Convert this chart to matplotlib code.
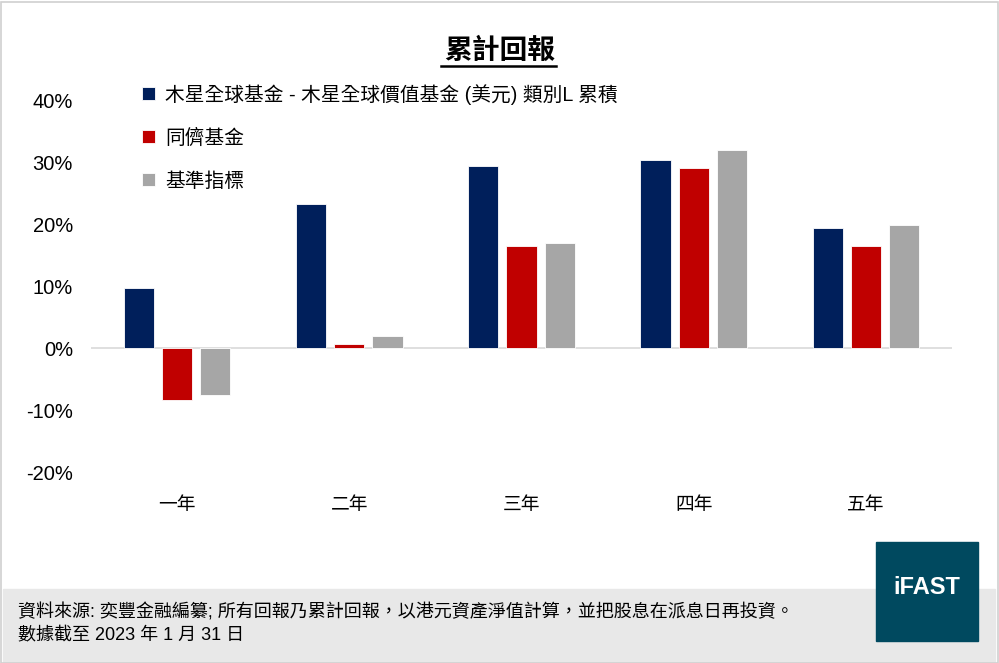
#- Cumulative return grouped bar chart (iFAST style)

import numpy as np
import matplotlib.pyplot as plt
from matplotlib.patches import Rectangle

plt.rcParams['font.family'] = ['Liberation Sans', 'Noto Sans CJK TC', 'DejaVu Sans']

#- Data:

periods = ['一年', '二年', '三年', '四年', '五年']
fund = [9.7, 23.3, 29.3, 30.3, 19.3]
peers = [-8.4, 0.6, 16.4, 29.0, 16.4]
benchmark = [-7.5, 1.9, 17.0, 31.9, 19.9]
series_names = ['木星全球基金 - 木星全球價值基金 (美元) 類別L 累積', '同儕基金', '基準指標']
colors = ['#001f5b', '#c00000', '#a6a6a6']

W, H = 999, 663
fig = plt.figure(figsize=(W / 100, H / 100), dpi=100)

# footer band and frame
fig.patches.append(Rectangle((3 / W, 0), (W - 7) / W, (H - 589) / H,
                             transform=fig.transFigure, color='#e8e8e8', zorder=0))
fig.patches.append(Rectangle((0.5 / W, 0.5 / H), (W - 2) / W, (H - 2) / H,
                             transform=fig.transFigure, fill=False,
                             edgecolor='#d0d0d0', linewidth=1.2, zorder=1))

ax = fig.add_axes([91 / W, 1 - 472 / H, (952 - 91) / W, (472 - 100) / H])
ax.set_facecolor('none')

idx = np.arange(len(periods))
width = 0.175
step = 0.222
bars = []
for k, vals in enumerate([fund, peers, benchmark]):
    b = ax.bar(idx + (k - 1) * step, vals, width, color=colors[k],
               edgecolor='white', linewidth=0.6, zorder=3)
    bars.append(b)

ax.axhline(0, color='#d9d9d9', linewidth=1.2, zorder=2)
ax.set_xlim(-0.5, len(periods) - 0.5)
ax.set_ylim(-20, 40)
ax.set_yticks(np.arange(-20, 41, 10))
ax.set_yticklabels([f'{v}%' for v in range(-20, 41, 10)], fontsize=14.5)
ax.set_xticks(idx)
ax.set_xticklabels(periods, fontsize=13.5)
ax.tick_params(axis='both', length=0, colors='black')
ax.tick_params(axis='y', pad=13)
ax.tick_params(axis='x', pad=18)
for s in ax.spines.values():
    s.set_visible(False)

fig.text(0.5, 1 - 52 / H, '累計回報', ha='center', va='center',
         fontsize=20, fontweight='bold')
fig.add_artist(plt.Line2D([441 / W, 556 / W], [1 - 66 / H, 1 - 66 / H],
                          color='black', linewidth=1.8))

fig.legend(bars, series_names, loc='upper left',
           bbox_to_anchor=(124 / W, 1 - 66 / H), frameon=False,
           fontsize=14.2, handlelength=0.65, handleheight=0.65,
           handletextpad=0.55, labelspacing=1.22)

fig.text(18 / W, 1 - 612 / H,
         '資料來源: 奕豐金融編纂; 所有回報乃累計回報，以港元資產淨值計算，並把股息在派息日再投資。',
         fontsize=13, va='center')
fig.text(18 / W, 1 - 636 / H, '數據截至 2023 年 1 月 31 日', fontsize=13, va='center')

# logo
fig.patches.append(Rectangle((876 / W, 1 - 641 / H), 102 / W, 99 / H,
                             transform=fig.transFigure, color='#00495f', zorder=2))
fig.text(927 / W, 1 - 587 / H, 'iFAST', ha='center', va='center', color='white',
         fontsize=17, fontweight='bold', zorder=3)

fig.savefig('out.png', dpi=100)
